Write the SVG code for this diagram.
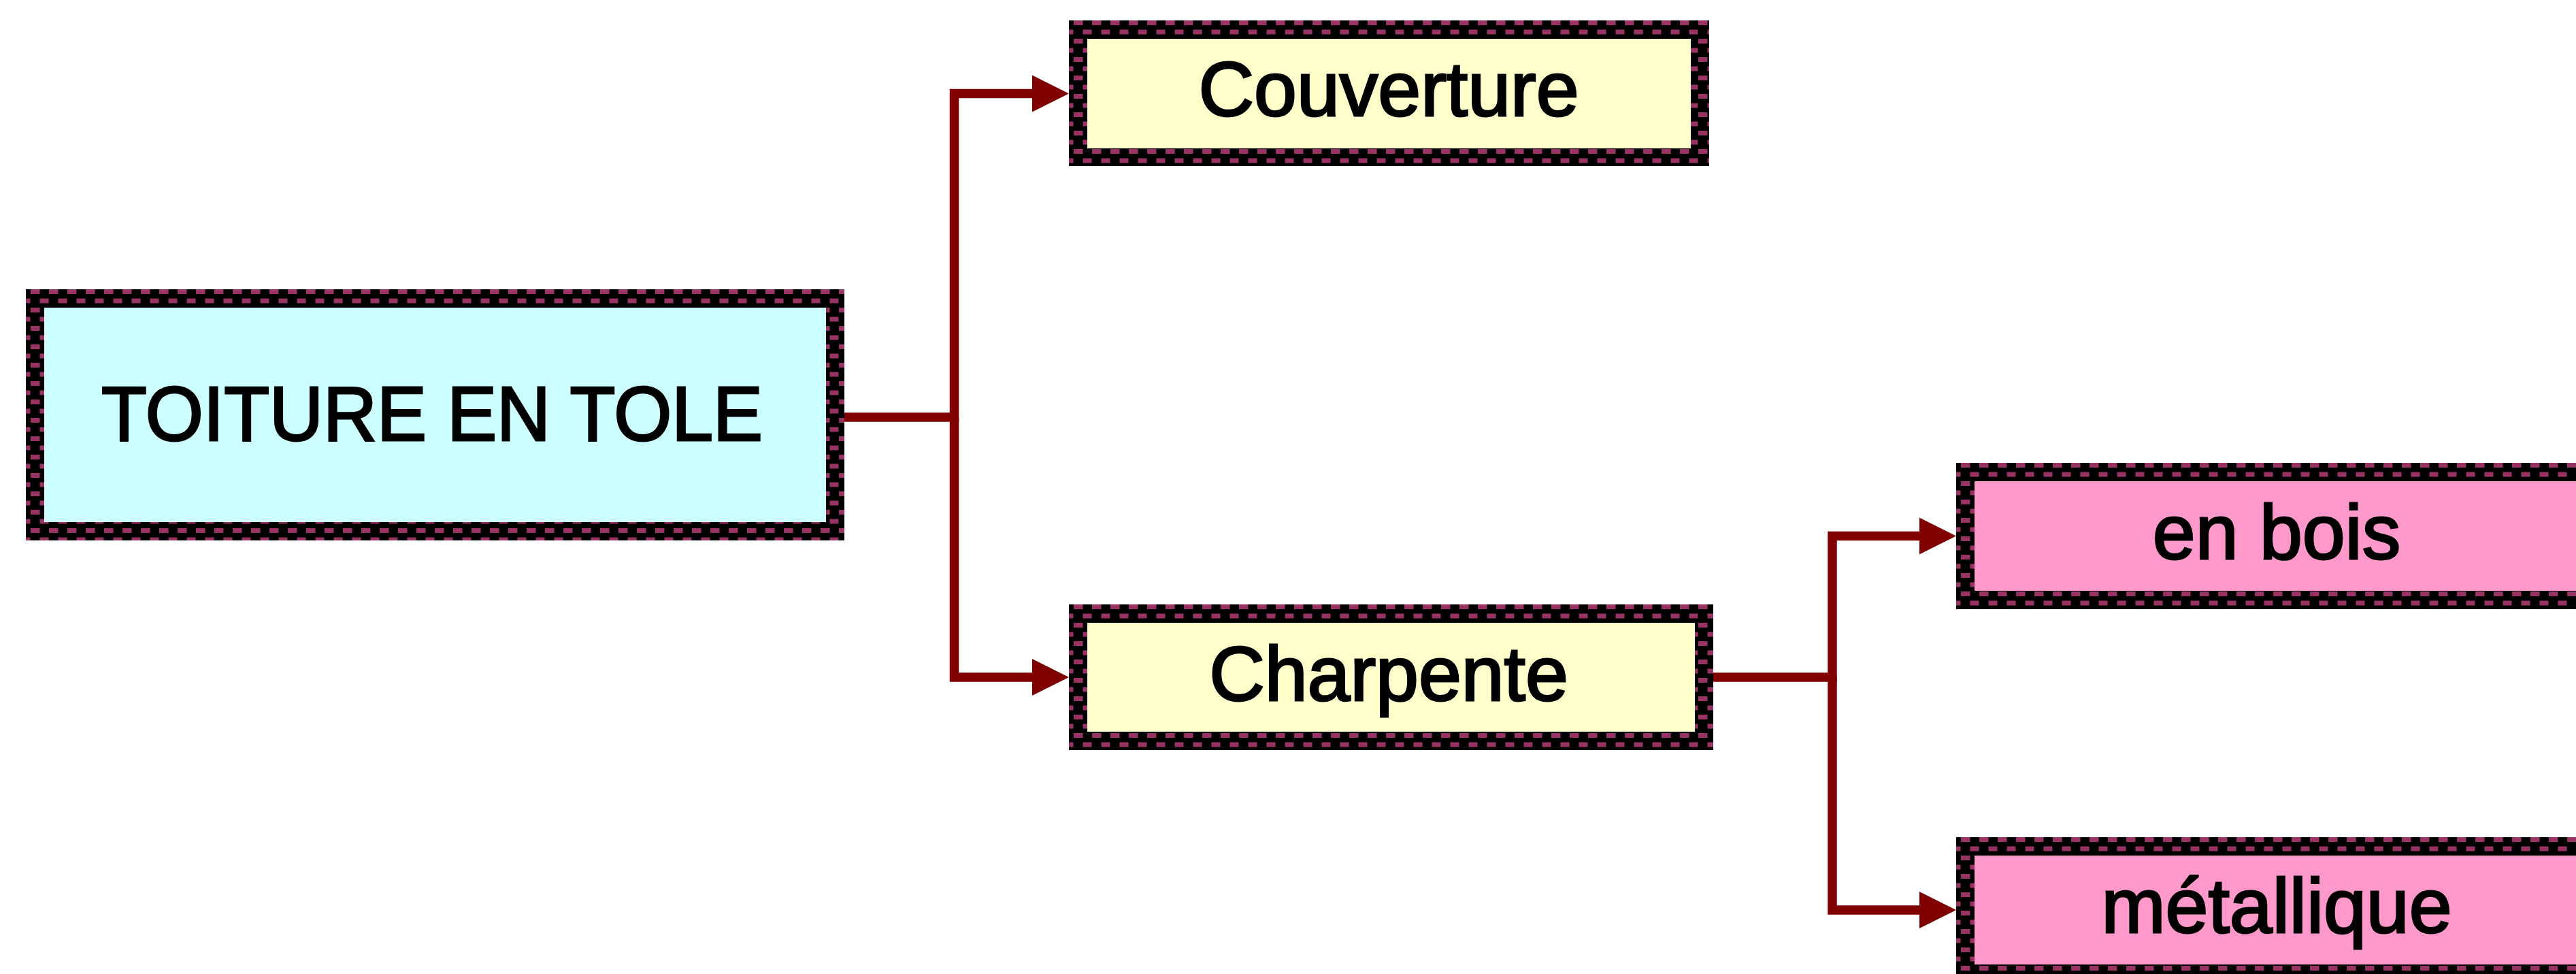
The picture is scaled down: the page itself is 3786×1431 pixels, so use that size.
<svg xmlns="http://www.w3.org/2000/svg" width="3786" height="1431" viewBox="0 0 3786 1431">
<style>
.lbl{font-family:"Liberation Sans",Arial,sans-serif;font-size:113px;fill:#000;stroke:#000;stroke-width:3;text-anchor:middle}
.frame{fill:url(#brd)}
.conn{fill:none;stroke:#800000;stroke-width:13.5;stroke-linejoin:miter;stroke-linecap:butt}
</style>
<defs>
<pattern id="brd" x="0" y="0" width="27" height="27" patternUnits="userSpaceOnUse">
<rect width="27" height="27" fill="#000"/>
<rect x="7" y="0" width="13.5" height="7" fill="#993366"/>
<rect x="20.5" y="13.5" width="6.5" height="7" fill="#993366"/>
<rect x="0" y="13.5" width="6.5" height="7" fill="#993366"/>
</pattern>
<marker id="arr" markerUnits="userSpaceOnUse" markerWidth="54" markerHeight="54" refX="0" refY="27" orient="auto" overflow="visible">
<path d="M0,0 L54,27 L0,54 Z" fill="#800000"/>
</marker>
</defs>
<rect width="3786" height="1431" fill="#fff"/>
<g id="connectors">
<path class="conn" d="M1241,613 H1402.5 V137.5 H1517" marker-end="url(#arr)"/>
<path class="conn" d="M1402.5,613 V995 H1517" marker-end="url(#arr)"/>
<path class="conn" d="M2518,995 H2693 V787.5 H2821" marker-end="url(#arr)"/>
<path class="conn" d="M2693,995 V1337 H2821" marker-end="url(#arr)"/>
</g>
<g id="toiture" transform="translate(38,425)">
<rect class="frame" width="1203" height="369"/>
<rect x="27" y="27" width="1149" height="315" fill="#CCFFFF"/>
<text class="lbl" x="597" y="222" textLength="972" lengthAdjust="spacingAndGlyphs">TOITURE EN TOLE</text>
</g>
<g id="couverture" transform="translate(1571,30)">
<rect class="frame" width="941" height="214"/>
<rect x="27" y="27" width="887" height="161" fill="#FFFFCC"/>
<text class="lbl" x="470" y="140">Couverture</text>
</g>
<g id="charpente" transform="translate(1571,888)">
<rect class="frame" width="947" height="214"/>
<rect x="27" y="27" width="893" height="160" fill="#FFFFCC"/>
<text class="lbl" x="470" y="141">Charpente</text>
</g>
<g id="enbois" transform="translate(2875,680)">
<rect class="frame" width="945" height="215"/>
<rect x="27" y="27" width="891" height="161" fill="#FF99CC"/>
<text class="lbl" x="471" y="141">en bois</text>
</g>
<g id="metallique" transform="translate(2875,1230)">
<rect class="frame" width="945" height="214"/>
<rect x="27" y="27" width="891" height="160" fill="#FF99CC"/>
<text class="lbl" x="471" y="140">métallique</text>
</g>
</svg>
